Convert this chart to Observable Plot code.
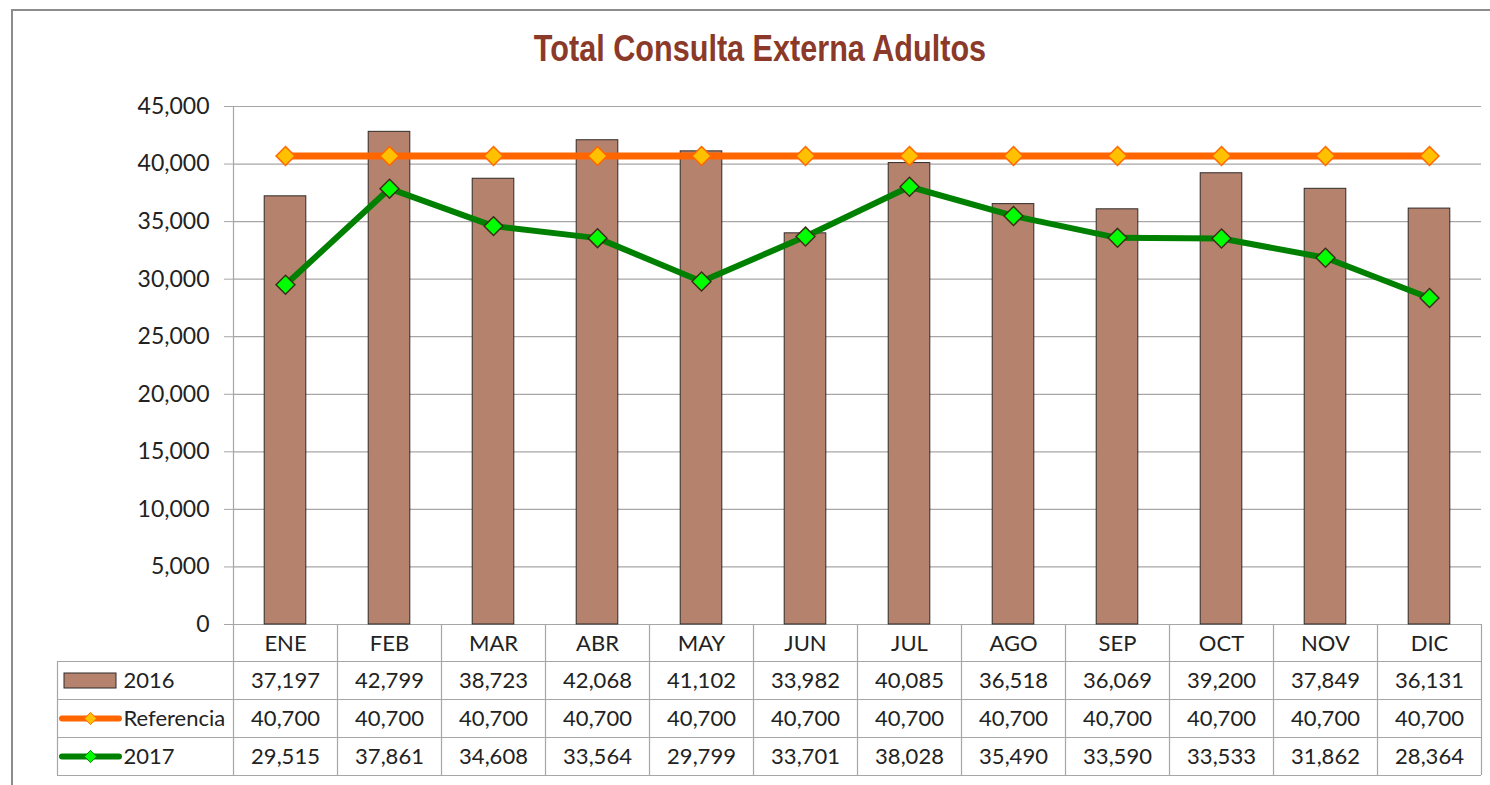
<!DOCTYPE html>
<html><head><meta charset="utf-8">
<script src="https://cdn.jsdelivr.net/npm/d3@7"></script>
<script src="https://cdn.jsdelivr.net/npm/@observablehq/plot@0.6"></script>
<style>
html,body{margin:0;padding:0;background:#fff;overflow:hidden;width:1490px;height:785px;}
#frame{position:absolute;left:11px;top:9px;width:1500px;height:800px;border:2px solid #8c8c8c;box-sizing:border-box;}
#title{position:absolute;left:0;top:29px;width:1520px;text-align:center;font-family:"Liberation Sans Narrow","Arial Narrow","Liberation Sans",sans-serif;font-weight:bold;font-size:36px;color:#8B3A2A;line-height:40px;transform:scaleX(0.85);transform-origin:760px 0;}
#chart{position:absolute;left:0;top:80px;}
</style></head>
<body>
<div id="frame"></div>
<div id="title">Total Consulta Externa Adultos</div>
<div id="chart"></div>
<script>
const months = ["ENE","FEB","MAR","ABR","MAY","JUN","JUL","AGO","SEP","OCT","NOV","DIC"];
const v2016 = [37197,42799,38723,42068,41102,33982,40085,36518,36069,39200,37849,36131];
const vRef  = [40700,40700,40700,40700,40700,40700,40700,40700,40700,40700,40700,40700];
const v2017 = [29515,37861,34608,33564,29799,33701,38028,35490,33590,33533,31862,28364];
const yTicks = [0,5000,10000,15000,20000,25000,30000,35000,40000,45000];
const seriesNames = ["2016","Referencia","2017"];

const rows = months.map((m,i)=>({i, month:m, v2016:v2016[i], ref:vRef[i], v2017:v2017[i]}));
const bounds = months.map((m,i)=>i+0.5);
const fmt = d3.format(",");

const C = {bar:"#B5826E", barStroke:"#2e2a28", ref:"#FF6600", refFill:"#FFC000", g:"#008000", gFill:"#00FF00", gStroke:"#3a3015", grid:"#a6a6a6", text:"#222"};
const FS = 22;
// table row offsets (px below zero line)
const rowLines = [37,75,113,151];
const rowCenters = [19,56,94,132];

const zero = () => 0;
const marks = [
  Plot.ruleY(yTicks, {stroke:C.grid, strokeWidth:1.2}),
  Plot.axisY({ticks:yTicks, tickFormat:fmt, tickSize:9, tickPadding:15, stroke:C.grid, fill:C.text, fontSize:23, label:null}),
  Plot.rectY(rows, {x1:d=>d.i-0.2, x2:d=>d.i+0.2, y:"v2016", fill:C.bar, stroke:C.barStroke, strokeWidth:1}),
  Plot.line(rows, {x:"i", y:"ref", stroke:C.ref, strokeWidth:7}),
  Plot.dot(rows, {x:"i", y:"ref", symbol:"diamond2", r:8.5, fill:C.refFill, stroke:C.ref, strokeWidth:1.5}),
  Plot.line(rows, {x:"i", y:"v2017", stroke:C.g, strokeWidth:6}),
  Plot.dot(rows, {x:"i", y:"v2017", symbol:"diamond2", r:8.5, fill:C.gFill, stroke:C.gStroke, strokeWidth:1.5}),
  // y axis line extending through the table
  Plot.ruleX([-0.5], {y1:()=>45000, y2:zero, insetBottom:-151, stroke:C.grid, strokeWidth:1.2}),
  // table column dividers
  Plot.ruleX(bounds, {y1:zero, y2:zero, insetBottom:-151, stroke:C.grid, strokeWidth:1.2}),
  // table left edge
  Plot.ruleX([-0.5], {y1:zero, y2:zero, insetTop:37, insetBottom:-151, dx:-176, stroke:C.grid, strokeWidth:1.2}),
  // table row lines
  ...rowLines.map(off => Plot.ruleY([0], {x1:()=>-0.5, x2:()=>11.5, insetLeft:-176, dy:off, stroke:C.grid, strokeWidth:1.2})),
  // header & values
  Plot.text(rows, {x:"i", y:zero, text:"month", dy:rowCenters[0], fontSize:FS, fill:C.text}),
  Plot.text(rows, {x:"i", y:zero, text:d=>fmt(d.v2016), dy:rowCenters[1], fontSize:FS, fill:C.text}),
  Plot.text(rows, {x:"i", y:zero, text:d=>fmt(d.ref), dy:rowCenters[2], fontSize:FS, fill:C.text}),
  Plot.text(rows, {x:"i", y:zero, text:d=>fmt(d.v2017), dy:rowCenters[3], fontSize:FS, fill:C.text}),
  // legend column
  ...seriesNames.map((s,k) => Plot.text([s], {x:()=>-0.5, y:zero, text:d=>d, dx:-110, dy:rowCenters[k+1], textAnchor:"start", fontSize:FS, fill:C.text})),
  Plot.rect([seriesNames[0]], {x1:()=>-0.5, x2:()=>-0.5, y1:zero, y2:zero, insetLeft:-169, insetRight:117, insetTop:49, insetBottom:-64, fill:C.bar, stroke:C.barStroke, strokeWidth:1}),
  Plot.ruleY([0], {x1:()=>-0.5, x2:()=>-0.5, insetLeft:-171, insetRight:114, dy:rowCenters[2], stroke:C.ref, strokeWidth:6, strokeLinecap:"round"}),
  Plot.dot([seriesNames[1]], {x:()=>-0.5, y:zero, dx:-143, dy:rowCenters[2], symbol:"diamond2", r:5.5, fill:C.refFill, stroke:C.ref, strokeWidth:1}),
  Plot.ruleY([0], {x1:()=>-0.5, x2:()=>-0.5, insetLeft:-171, insetRight:114, dy:rowCenters[3], stroke:C.g, strokeWidth:6, strokeLinecap:"round"}),
  Plot.dot([seriesNames[2]], {x:()=>-0.5, y:zero, dx:-143, dy:rowCenters[3], symbol:"diamond2", r:5.5, fill:C.gFill, stroke:C.g, strokeWidth:1}),
];

const chart = Plot.plot({
  width:1490, height:705,
  marginTop:26, marginBottom:161, marginLeft:233, marginRight:9,
  x:{type:"linear", domain:[-0.5,11.5], axis:null},
  y:{domain:[0,45000], axis:null},
  style:{fontFamily:"Lato, 'Open Sans', sans-serif", fontSize:"22px", color:C.text, background:"transparent", overflow:"visible"},
  marks
});
document.getElementById("chart").appendChild(chart);
</script>
</body></html>
